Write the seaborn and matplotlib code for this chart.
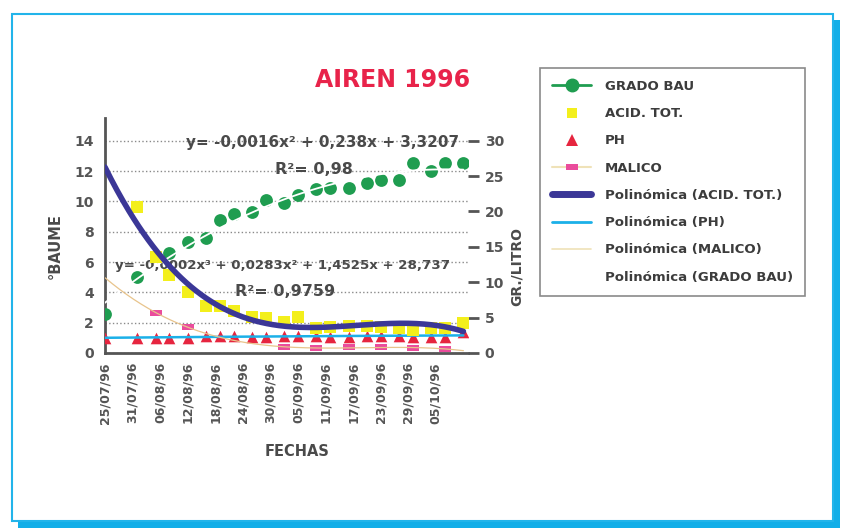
import numpy as np
import pandas as pd
import matplotlib
matplotlib.use("Agg")
import matplotlib.pyplot as plt
from matplotlib.lines import Line2D
from matplotlib.patches import Rectangle
import seaborn as sns

# Datos (AIREN 1996)
fechas = ['25/07/96', '01/08/96', '05/08/96', '08/08/96', '12/08/96', '16/08/96',
          '19/08/96', '22/08/96', '26/08/96', '29/08/96', '02/09/96', '05/09/96',
          '09/09/96', '12/09/96', '16/09/96', '20/09/96', '23/09/96', '27/09/96',
          '30/09/96', '04/10/96', '07/10/96', '11/10/96']
grado_bau = [2.6, 5.0, np.nan, 6.6, 7.3, 7.6, 8.8, 9.2, 9.3, 10.1, 9.9, 10.4,
             10.8, 10.9, 10.9, 11.2, 11.4, 11.4, 12.5, 12.0, 12.5, 12.5]
acid_tot = [np.nan, 20.6, 13.6, 11.0, 8.6, 6.6, 6.7, 5.9, 5.1, 5.0, 4.4, 5.1,
            3.6, 3.7, 3.8, 3.8, 3.7, 3.6, 3.3, 3.6, 3.5, 4.3]
ph = [1.0, 1.0, 1.0, 1.0, 1.0, 1.15, 1.15, 1.15, 1.05, 1.05, 1.15, 1.15,
      1.15, 1.05, 1.05, 1.15, 1.15, 1.15, 1.05, 1.05, 1.05, 1.4]
malico = [np.nan, np.nan, 5.7, np.nan, 3.7, np.nan, np.nan, np.nan, np.nan, np.nan,
          0.8, np.nan, 0.7, np.nan, 0.8, np.nan, 0.8, np.nan, 0.7, np.nan, 0.6, np.nan]
etiquetas_x = ['25/07/96', '31/07/96', '06/08/96', '12/08/96', '18/08/96', '24/08/96',
               '30/08/96', '05/09/96', '11/09/96', '17/09/96', '23/09/96', '29/09/96',
               '05/10/96']

df = pd.DataFrame({'fecha': pd.to_datetime(fechas, format='%d/%m/%y'),
                   'grado_bau': grado_bau, 'acid_tot': acid_tot,
                   'ph': ph, 'malico': malico})
inicio = df['fecha'].iloc[0]
df['dia'] = (df['fecha'] - inicio).dt.days
ticks_x = (pd.to_datetime(etiquetas_x, format='%d/%m/%y') - inicio).days
dia_fin = df['dia'].max()


def ajuste(col, grado):
    d = df.dropna(subset=[col])
    coef = np.polyfit(d['dia'], d[col], grado)
    xs = np.linspace(0, dia_fin, 300)
    return xs, np.polyval(coef, xs)


sns.set_style("white")
plt.rcParams['font.family'] = ['DejaVu Sans']
plt.rcParams['font.weight'] = 'bold'

fig = plt.figure(figsize=(8.47, 5.30), dpi=100)

# marco azul con sombra
fig.patches.append(Rectangle((18 / 847, 1 - 528 / 530), 822 / 847, 508 / 530,
                             transform=fig.transFigure, facecolor='#12aee8',
                             edgecolor='none', zorder=-2))
fig.patches.append(Rectangle((12 / 847, 1 - 521 / 530), 821 / 847, 507 / 530,
                             transform=fig.transFigure, facecolor='white',
                             edgecolor='#22b4ea', linewidth=1.5, zorder=-1))

ax = fig.add_axes([105 / 847, 1 - 353 / 530, 363 / 847, 235 / 530])
ax.patch.set_alpha(0)
ax2 = ax.twinx()

ymax = 15.5
ax.set_ylim(0, ymax)
ax2.set_ylim(0, ymax * 30 / 14)
ax.set_xlim(0, 79)

# rejilla punteada
ax.set_yticks(range(0, 15, 2))
ax.yaxis.grid(True, linestyle=':', color='#8a8a8a', linewidth=1)
ax.set_axisbelow(True)

# textos de las ecuaciones (debajo de los puntos)
ax.text(323 / 847, 1 - 143 / 530, 'y= -0,0016x² + 0,238x + 3,3207', transform=fig.transFigure,
        ha='center', va='center', fontsize=11, color='#4a4a4a', fontweight='bold', zorder=2.5)
ax.text(314 / 847, 1 - 170 / 530, 'R²= 0,98', transform=fig.transFigure,
        ha='center', va='center', fontsize=11.5, color='#4a4a4a', fontweight='bold', zorder=2.5)
ax.text(283 / 847, 1 - 266 / 530, 'y= -0,0002x³ + 0,0283x² + 1,4525x + 28,737', transform=fig.transFigure,
        ha='center', va='center', fontsize=9.6, color='#4a4a4a', fontweight='bold', zorder=2.5)
ax.text(285 / 847, 1 - 292 / 530, 'R²= 0,9759', transform=fig.transFigure,
        ha='center', va='center', fontsize=11.5, color='#4a4a4a', fontweight='bold', zorder=2.5)

# eje izquierdo: grado baume y PH
sns.scatterplot(data=df, x='dia', y='grado_bau', ax=ax, color='#1f9d50', s=85,
                marker='o', linewidth=0, zorder=3, legend=False)
sns.scatterplot(data=df, x='dia', y='ph', ax=ax, color='#e6253f', s=70,
                marker='^', linewidth=0, zorder=3, legend=False)
xs, ys = ajuste('ph', 2)
sns.lineplot(x=xs, y=ys, ax=ax, color='#1bb0e8', linewidth=1.8, zorder=4,
             sort=False, estimator=None)
xs, ys = ajuste('grado_bau', 2)
sns.lineplot(x=xs, y=ys, ax=ax, color='white', linewidth=1.3, zorder=4,
             sort=False, estimator=None)

# eje derecho: acidez total y malico (gr/litro)
rect = [(-1, -0.42), (1, -0.42), (1, 0.42), (-1, 0.42), (-1, -0.42)]
sns.scatterplot(data=df, x='dia', y='acid_tot', ax=ax2, color='#f3ef1c', s=64,
                marker='s', linewidth=0, zorder=3, legend=False)
sns.scatterplot(data=df, x='dia', y='malico', ax=ax2, color='#ea4c9c', s=80,
                marker=rect, linewidth=0, zorder=3, legend=False)
xs, ys = ajuste('malico', 3)
sns.lineplot(x=xs, y=ys, ax=ax2, color='#e8c48c', linewidth=0.9, zorder=4,
             sort=False, estimator=None)
xs, ys = ajuste('acid_tot', 3)
sns.lineplot(x=xs, y=ys, ax=ax2, color='#3b3797', linewidth=4, zorder=5,
             sort=False, estimator=None)

# ejes
for a in (ax, ax2):
    a.set_xlabel('')
    a.set_ylabel('')
    for s in ('top', 'right'):
        a.spines[s].set_visible(False)
ax2.spines['left'].set_visible(False)
ax2.spines['bottom'].set_visible(False)
for s in ('left', 'bottom'):
    ax.spines[s].set_color('#555555')
    ax.spines[s].set_linewidth(2)

ax.set_xticks(ticks_x)
ax.set_xticklabels(etiquetas_x, rotation=90, fontsize=9, color='#555555', fontweight='bold')
ax.set_xticks(range(0, 79), minor=True)
ax.tick_params(axis='x', which='major', direction='inout', length=9, width=1.2, color='#555555', pad=2)
ax.tick_params(axis='x', which='minor', direction='inout', length=5, width=0.9, color='#555555')
ax.tick_params(axis='y', length=0, labelsize=10, labelcolor='#555555', pad=8)
ax.set_yticklabels([str(v) for v in range(0, 15, 2)], fontweight='bold')

ax2.set_yticks(range(0, 31, 5))
ax2.set_yticklabels([str(v) for v in range(0, 31, 5)], fontweight='bold')
ax2.tick_params(axis='y', direction='out', length=8, width=2, color='#555555',
                labelsize=10, labelcolor='#555555', pad=4)

# titulos
fig.text(393 / 847, 1 - 80 / 530, 'AIREN 1996', ha='center', va='center',
         fontsize=17, color='#e8234a', fontweight='bold')
fig.text(55 / 847, 1 - 246 / 530, '°BAUME', rotation=90, ha='center', va='center',
         fontsize=10.5, color='#4a4a4a', fontweight='bold')
fig.text(517 / 847, 1 - 266 / 530, 'GR./LITRO', rotation=90, ha='center', va='center',
         fontsize=10, color='#4a4a4a', fontweight='bold')
fig.text(297 / 847, 1 - 452 / 530, 'FECHAS', ha='center', va='center',
         fontsize=10.5, color='#4a4a4a', fontweight='bold')

# leyenda
handles = [
    Line2D([], [], color='#1f9d50', linewidth=2, marker='o', markersize=9),
    Line2D([], [], color='none', marker='s', markersize=7.5, markerfacecolor='#f3ef1c', markeredgewidth=0),
    Line2D([], [], color='none', marker='^', markersize=8, markerfacecolor='#e6253f', markeredgewidth=0),
    Line2D([], [], color='#efe2b8', linewidth=1.5, marker=rect, markersize=9,
           markerfacecolor='#ea4c9c', markeredgewidth=0),
    Line2D([], [], color='#3b3797', linewidth=5),
    Line2D([], [], color='#1bb0e8', linewidth=2),
    Line2D([], [], color='#efe2b8', linewidth=1.2),
    Line2D([], [], color='white', linewidth=1),
]
labels = ['GRADO BAU', 'ACID. TOT.', 'PH', 'MALICO', 'Polinómica (ACID. TOT.)',
          'Polinómica (PH)', 'Polinómica (MALICO)', 'Polinómica (GRADO BAU)']
leg = fig.legend(handles, labels, loc='upper left', bbox_to_anchor=(540 / 847, 1 - 68 / 530),
                 frameon=True, fancybox=False, framealpha=1, edgecolor='#8a8a8a',
                 handlelength=3.0, labelspacing=1.08, borderpad=0.9, handletextpad=1.0,
                 borderaxespad=0, prop={'size': 9.5, 'weight': 'bold'})
leg.get_frame().set_linewidth(1.2)
for t in leg.get_texts():
    t.set_color('#3c3c3c')

fig.savefig('out.png', dpi=100)
